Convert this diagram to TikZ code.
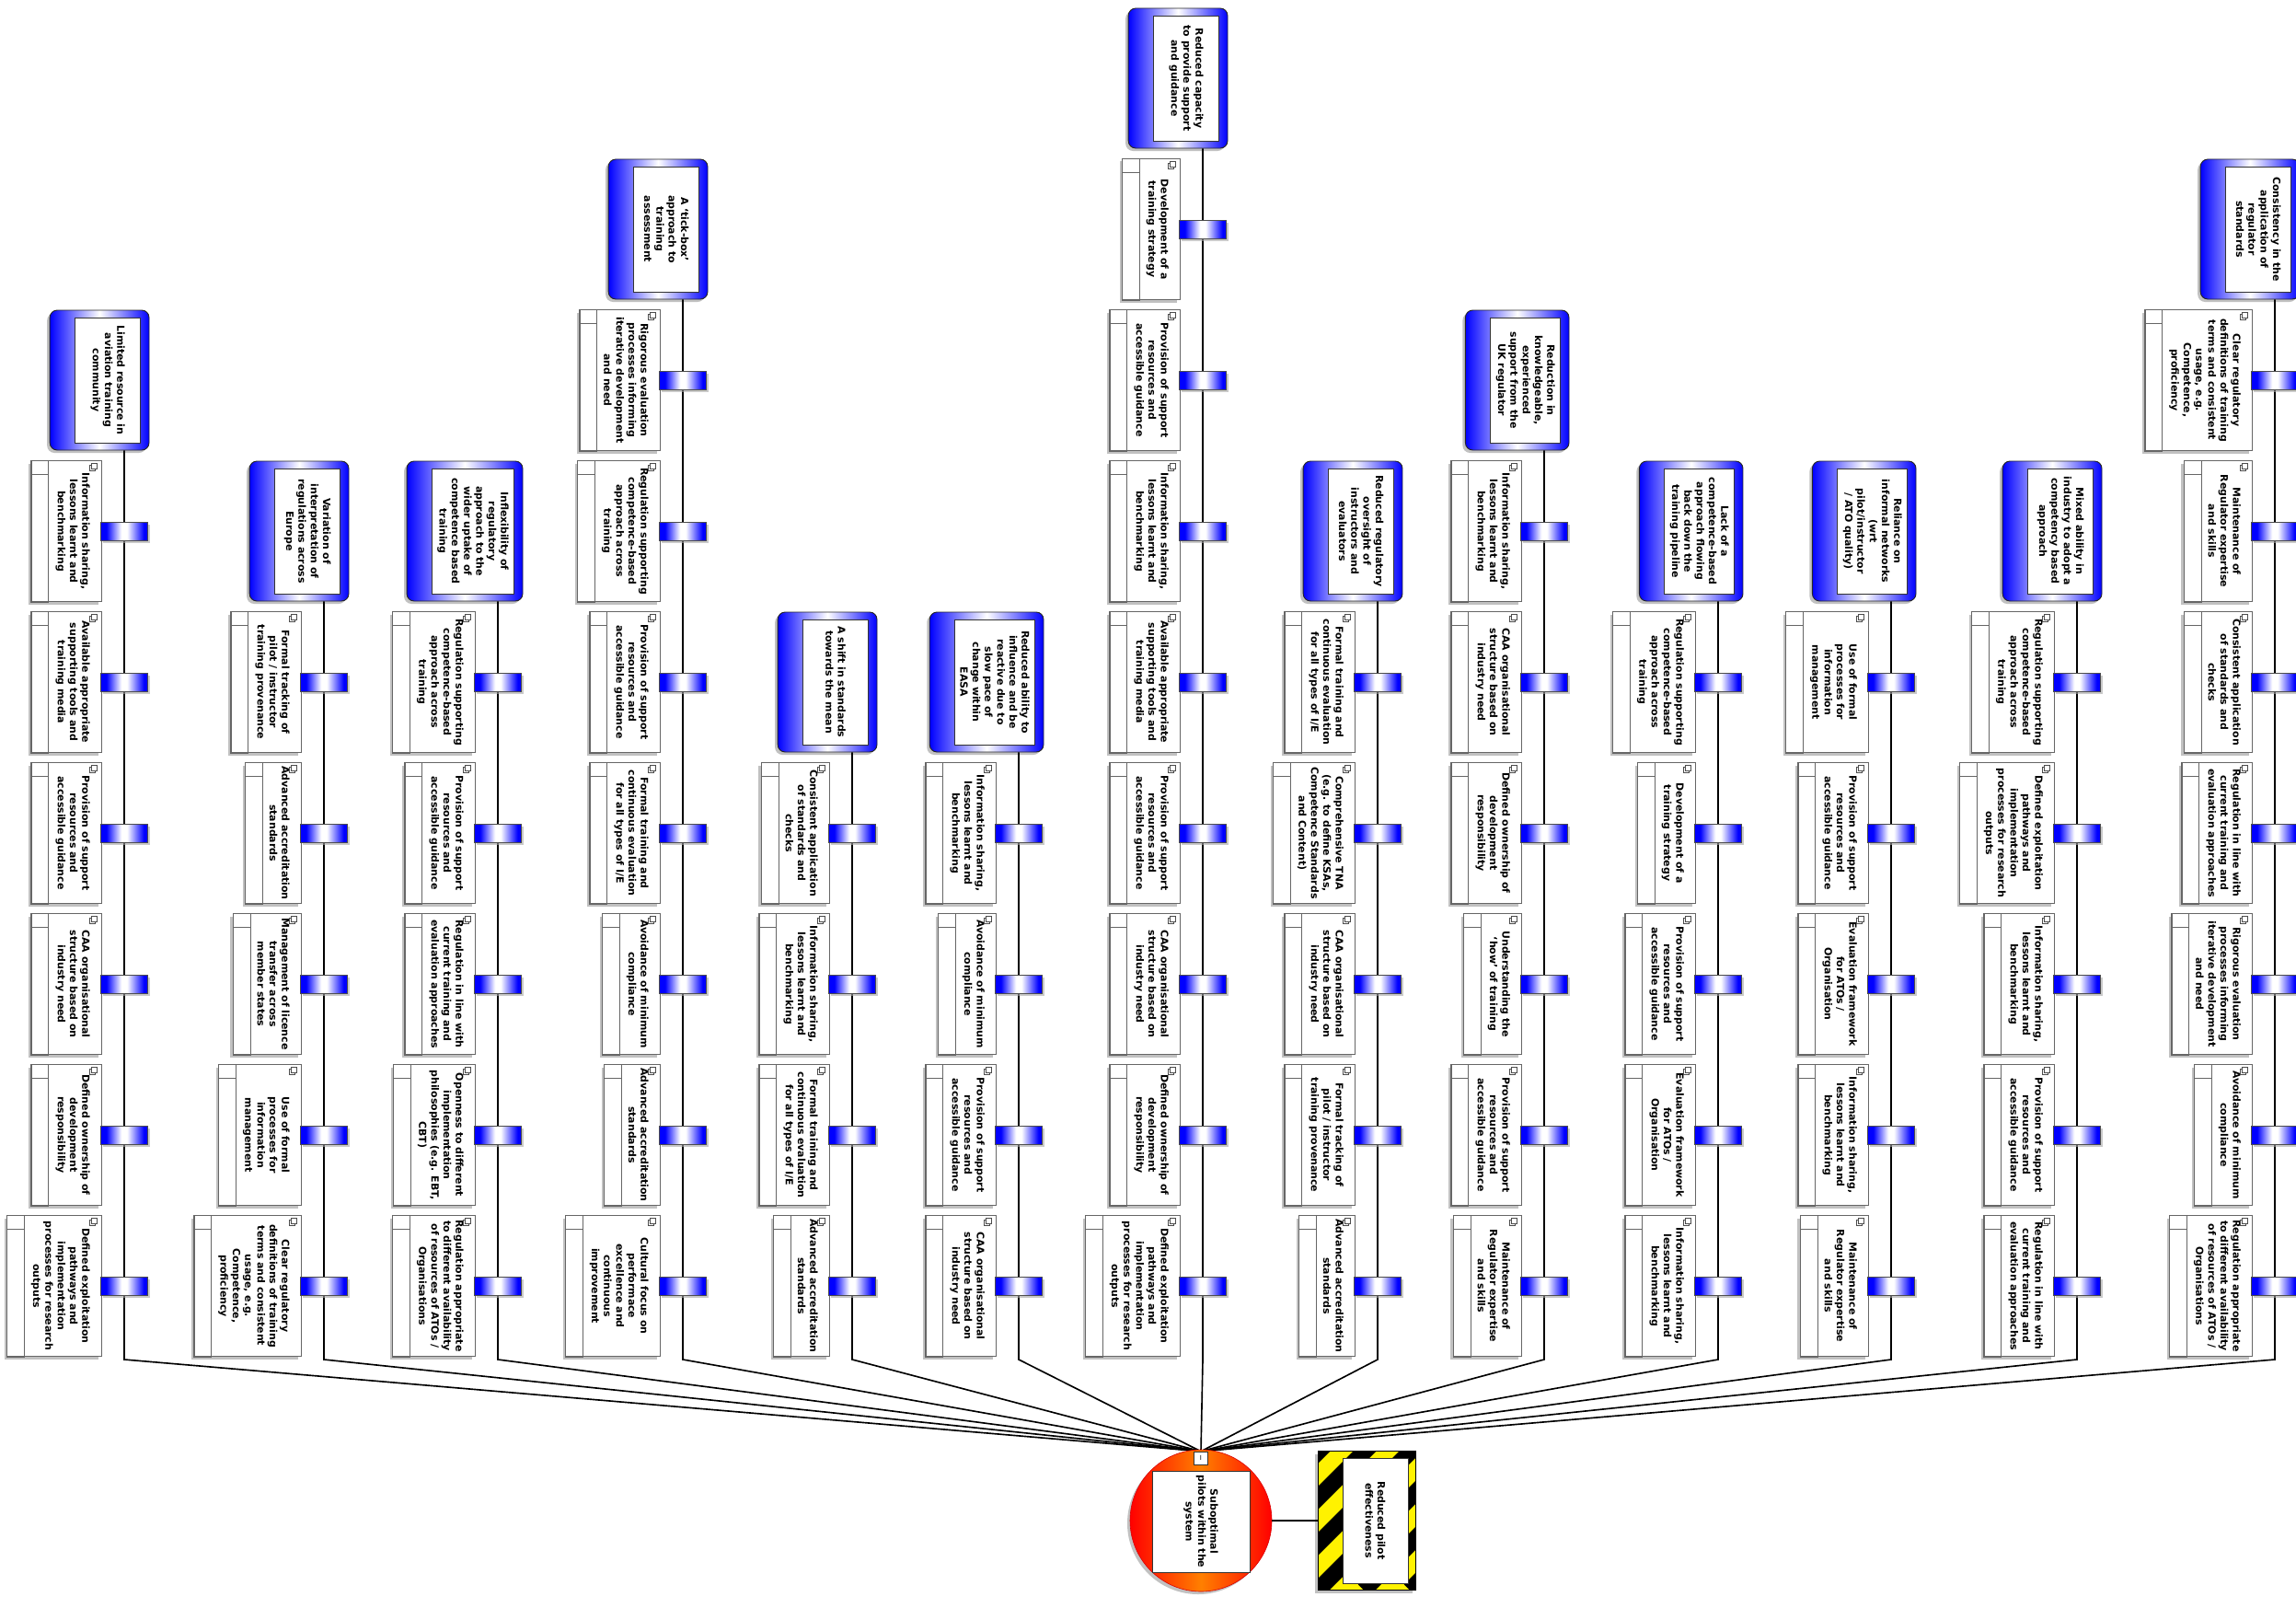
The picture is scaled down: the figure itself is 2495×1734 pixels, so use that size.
\documentclass[tikz,border=0pt]{standalone}
\usepackage{fontspec}
\setmainfont{DejaVu Sans}
\usetikzlibrary{positioning, calc, fit, shadows, backgrounds}

% blue - white - blue across a barrier block
\pgfdeclarehorizontalshading{barshade}{100bp}{color(0bp)=(blue); color(31bp)=(blue); color(47bp)=(white); color(53bp)=(white); color(71bp)=(blue); color(100bp)=(blue)}

% threat: #1 number, #2 line x, #3 row of its first barrier, #4 text
\newcommand{\threat}[4]{%
  \node[threattext, anchor=north] (t#1i) at ({#2+18}, {1397-164*#3}) {#4};
  \coordinate (t#1l) at ($(t#1i.south)+(-27,0)$);
  \coordinate (t#1r) at ($(t#1i.north)+(9,0)$);
  \coordinate (k#1) at (#2, 1477);
  \begin{scope}[on background layer]
    \node[threatbox, fit=(t#1l)(t#1r)] (t#1) {};
  \end{scope}
}
% barrier: #1 name, #2 line x, #3 row (1 = lowest), #4 text
\newcommand{\barrier}[4]{%
  \node[bartext, anchor=north] (#1t) at ({#2-37}, {1397-164*(#3-1)}) {#4};
  \coordinate (#1l) at ($(#1t.south)+(-26,0)$);
  \coordinate (#1r) at ($(#1t.north)+(12,0)$);
  \begin{scope}[on background layer]
    \node[barbox, fit=(#1l)(#1r)] (#1) {};
    \draw[boxline] (#1.north west) rectangle ($(#1.south west)+(19,0)$);
    \draw[boxline] ($(#1.north west)+(0,15)$) -- ++(19,0);
  \end{scope}
  \draw[icon] ($(#1.north east)+(-13,11)$) rectangle ++(6,-6);
  \draw[icon] ($(#1.north east)+(-11,9)$) rectangle ++(6,-6);
  \node[barblock] (#1b) at (#2, {1397-164*(#3-1)}) {};
}

\begin{document}
\begin{tikzpicture}[
    x=0.03cm, y=-0.03cm,
    font=\fontsize{9.3}{11.4}\selectfont\bfseries,
    % shadows
    softshadow/.style={drop shadow={shadow xshift=-0.09cm, shadow yshift=-0.09cm, fill=black!35, opacity=0.7}},
    % threats
    threatbox/.style={
      rectangle, rounded corners=0.24cm, draw=black!85, line width=0.8pt,
      left color=blue, right color=blue, middle color=white,
      minimum height=4.56cm, inner sep=0pt, softshadow
    },
    threattext/.style={
      rectangle, draw=black!80, fill=white, rotate=-90, line width=0.7pt,
      minimum width=4.08cm, minimum height=2.13cm, inner sep=5pt, align=center
    },
    % barriers
    barbox/.style={
      rectangle, draw=black!60, fill=white, line width=0.7pt,
      minimum height=4.59cm, inner sep=0pt, softshadow
    },
    boxline/.style={draw=black!60, line width=0.7pt},
    bartext/.style={rotate=-90, align=center, inner sep=0pt},
    icon/.style={draw=black!70, fill=white, line width=0.4pt},
    barblock/.style={
      rectangle, draw=black!70, line width=0.6pt,
      minimum width=1.53cm, minimum height=0.6cm, inner sep=0pt,
      shade, shading=barshade,
      drop shadow={shadow xshift=0.06cm, shadow yshift=-0.09cm, fill=black!35, opacity=0.6}
    },
    spine/.style={draw=black, line width=1.4pt},
    % top event and consequence
    topevent/.style={
      circle, minimum size=4.62cm, inner sep=0pt, draw=red!85!black, line width=0.5pt,
      left color=red, right color=red, middle color=orange, softshadow
    },
    innerbox/.style={rectangle, draw=black!80, fill=white, rotate=-90, line width=0.7pt, inner sep=4pt, align=center},
    ibox/.style={rectangle, draw=black!80, fill=white, minimum width=0.45cm, minimum height=0.42cm,
      inner sep=0pt, font=\fontsize{6}{6}\selectfont},
    conseq/.style={
      rectangle, draw=black, line width=0.8pt, fill=yellow,
      minimum width=3.18cm, minimum height=4.53cm, inner sep=0pt, softshadow,
      path picture={
        \foreach \k in {-4,...,3}
          \draw[black, line width=0.53cm] ($(path picture bounding box.south west)+(\k*50,0)$) -- ++(220,-220);
      }
    },
  ]
  \useasboundingbox (0,0) rectangle (2495,1734);

  % ====================================================================
  % TOP EVENT AND CONSEQUENCE
  % ====================================================================
  \node[topevent] (te) at (1305,1652) {};
  \node[innerbox, minimum width=3.24cm, minimum height=3.18cm] (tei) at (1305,1653) {Suboptimal\\pilots within the\\system};
  \node[ibox] (ib) at (1305,1584) {I};

  \node[conseq] (cq) at (1485,1652) {};
  \node[innerbox, minimum width=4.08cm, minimum height=2.13cm] (cqi) at (1494.5,1652) {Reduced pilot\\effectiveness};

  \draw[spine] (te.east) -- (cq.west);

  % ====================================================================
  % THREATS
  % ====================================================================
  \threat{1}{135}{6}{Limited resource in\\aviation training\\community}
  \threat{2}{352}{5}{Variation of\\interpretation of\\regulations across\\Europe}
  \threat{3}{541}{5}{Inflexibility of\\regulatory\\approach to the\\wider uptake of\\competence based\\training}
  \threat{4}{742}{7}{A `tick-box'\\approach to\\training\\assessment}
  \threat{5}{926}{4}{A shift in standards\\towards the mean}
  \threat{6}{1107}{4}{Reduced ability to\\influence and be\\reactive due to\\slow pace of\\change within\\EASA}
  \threat{7}{1307}{8}{Reduced capacity\\to provide support\\and guidance}
  \threat{8}{1497}{5}{Reduced regulatory\\oversight of\\instructors and\\evaluators}
  \threat{9}{1678}{6}{Reduction in\\knowledgeable,\\experienced\\support from the\\UK regulator}
  \threat{10}{1867}{5}{Lack of a\\competence-based\\approach flowing\\back down the\\training pipeline}
  \threat{11}{2055}{5}{Reliance on\\informal networks\\(wrt\\pilot/instructor\\/ ATO quality)}
  \threat{12}{2257}{5}{Mixed ability in\\industry to adopt a\\competency based\\approach}
  \threat{13}{2472}{7}{Consistency in the\\application of\\regulator\\standards}

  % ------- Lines to the top event -------
  \begin{scope}[on background layer]
    \foreach \i in {1,...,13}
      \draw[spine] (k\i |- t\i.south) -- (k\i) -- (ib.north);
  \end{scope}

  % ====================================================================
  % BARRIERS
  % ====================================================================
  % Limited resource
  \barrier{b1r6}{135}{6}{Information sharing,\\lessons learnt and\\benchmarking}
  \barrier{b1r5}{135}{5}{Available appropriate\\supporting tools and\\training media}
  \barrier{b1r4}{135}{4}{Provision of support\\resources and\\accessible guidance}
  \barrier{b1r3}{135}{3}{CAA organisational\\structure based on\\industry need}
  \barrier{b1r2}{135}{2}{Defined ownership of\\development\\responsibility}
  \barrier{b1r1}{135}{1}{Defined exploitation\\pathways and\\implementation\\processes for research\\outputs}

  % Variation of interpretation
  \barrier{b2r5}{352}{5}{Formal tracking of\\pilot / instructor\\training provenance}
  \barrier{b2r4}{352}{4}{Advanced accreditation\\standards}
  \barrier{b2r3}{352}{3}{Management of licence\\transfer across\\member states}
  \barrier{b2r2}{352}{2}{Use of formal\\processes for\\information\\management}
  \barrier{b2r1}{352}{1}{Clear regulatory\\definitions of training\\terms and consistent\\usage, e.g.\\Competence,\\proficiency}

  % Inflexibility
  \barrier{b3r5}{541}{5}{Regulation supporting\\competence-based\\approach across\\training}
  \barrier{b3r4}{541}{4}{Provision of support\\resources and\\accessible guidance}
  \barrier{b3r3}{541}{3}{Regulation in line with\\current training and\\evaluation approaches}
  \barrier{b3r2}{541}{2}{Openness to different\\implementation\\philosophies (e.g. EBT,\\CBT)}
  \barrier{b3r1}{541}{1}{Regulation appropriate\\to different availability\\of resources of ATOs /\\Organisations}

  % Tick-box
  \barrier{b4r7}{742}{7}{Rigorous evaluation\\processes informing\\iterative development\\and need}
  \barrier{b4r6}{742}{6}{Regulation supporting\\competence-based\\approach across\\training}
  \barrier{b4r5}{742}{5}{Provision of support\\resources and\\accessible guidance}
  \barrier{b4r4}{742}{4}{Formal training and\\continuous evaluation\\for all types of I/E}
  \barrier{b4r3}{742}{3}{Avoidance of minimum\\compliance}
  \barrier{b4r2}{742}{2}{Advanced accreditation\\standards}
  \barrier{b4r1}{742}{1}{Cultural focus on\\performace\\excellence and\\continuous\\improvement}

  % Shift in standards
  \barrier{b5r4}{926}{4}{Consistent application\\of standards and\\checks}
  \barrier{b5r3}{926}{3}{Information sharing,\\lessons learnt and\\benchmarking}
  \barrier{b5r2}{926}{2}{Formal training and\\continuous evaluation\\for all types of I/E}
  \barrier{b5r1}{926}{1}{Advanced accreditation\\standards}

  % Reduced ability to influence
  \barrier{b6r4}{1107}{4}{Information sharing,\\lessons learnt and\\benchmarking}
  \barrier{b6r3}{1107}{3}{Avoidance of minimum\\compliance}
  \barrier{b6r2}{1107}{2}{Provision of support\\resources and\\accessible guidance}
  \barrier{b6r1}{1107}{1}{CAA organisational\\structure based on\\industry need}

  % Reduced capacity
  \barrier{b7r8}{1307}{8}{Development of a\\training strategy}
  \barrier{b7r7}{1307}{7}{Provision of support\\resources and\\accessible guidance}
  \barrier{b7r6}{1307}{6}{Information sharing,\\lessons learnt and\\benchmarking}
  \barrier{b7r5}{1307}{5}{Available appropriate\\supporting tools and\\training media}
  \barrier{b7r4}{1307}{4}{Provision of support\\resources and\\accessible guidance}
  \barrier{b7r3}{1307}{3}{CAA organisational\\structure based on\\industry need}
  \barrier{b7r2}{1307}{2}{Defined ownership of\\development\\responsibility}
  \barrier{b7r1}{1307}{1}{Defined exploitation\\pathways and\\implementation\\processes for research\\outputs}

  % Reduced regulatory oversight
  \barrier{b8r5}{1497}{5}{Formal training and\\continuous evaluation\\for all types of I/E}
  \barrier{b8r4}{1497}{4}{Comprehensive TNA\\(e.g. to define KSAs,\\Competence Standards\\and Content)}
  \barrier{b8r3}{1497}{3}{CAA organisational\\structure based on\\industry need}
  \barrier{b8r2}{1497}{2}{Formal tracking of\\pilot / instructor\\training provenance}
  \barrier{b8r1}{1497}{1}{Advanced accreditation\\standards}

  % Reduction in support
  \barrier{b9r6}{1678}{6}{Information sharing,\\lessons learnt and\\benchmarking}
  \barrier{b9r5}{1678}{5}{CAA organisational\\structure based on\\industry need}
  \barrier{b9r4}{1678}{4}{Defined ownership of\\development\\responsibility}
  \barrier{b9r3}{1678}{3}{Understanding the\\`how' of training}
  \barrier{b9r2}{1678}{2}{Provision of support\\resources and\\accessible guidance}
  \barrier{b9r1}{1678}{1}{Maintenance of\\Regulator expertise\\and skills}

  % Lack of competence-based approach
  \barrier{b10r5}{1867}{5}{Regulation supporting\\competence-based\\approach across\\training}
  \barrier{b10r4}{1867}{4}{Development of a\\training strategy}
  \barrier{b10r3}{1867}{3}{Provision of support\\resources and\\accessible guidance}
  \barrier{b10r2}{1867}{2}{Evaluation framework\\for ATOs /\\Organisation}
  \barrier{b10r1}{1867}{1}{Information sharing,\\lessons learnt and\\benchmarking}

  % Reliance on informal networks
  \barrier{b11r5}{2055}{5}{Use of formal\\processes for\\information\\management}
  \barrier{b11r4}{2055}{4}{Provision of support\\resources and\\accessible guidance}
  \barrier{b11r3}{2055}{3}{Evaluation framework\\for ATOs /\\Organisation}
  \barrier{b11r2}{2055}{2}{Information sharing,\\lessons learnt and\\benchmarking}
  \barrier{b11r1}{2055}{1}{Maintenance of\\Regulator expertise\\and skills}

  % Mixed ability
  \barrier{b12r5}{2257}{5}{Regulation supporting\\competence-based\\approach across\\training}
  \barrier{b12r4}{2257}{4}{Defined exploitation\\pathways and\\implementation\\processes for research\\outputs}
  \barrier{b12r3}{2257}{3}{Information sharing,\\lessons learnt and\\benchmarking}
  \barrier{b12r2}{2257}{2}{Provision of support\\resources and\\accessible guidance}
  \barrier{b12r1}{2257}{1}{Regulation in line with\\current training and\\evaluation approaches}

  % Consistency
  \barrier{b13r7}{2472}{7}{Clear regulatory\\definitions of training\\terms and consistent\\usage, e.g.\\Competence,\\proficiency}
  \barrier{b13r6}{2472}{6}{Maintenance of\\Regulator expertise\\and skills}
  \barrier{b13r5}{2472}{5}{Consistent application\\of standards and\\checks}
  \barrier{b13r4}{2472}{4}{Regulation in line with\\current training and\\evaluation approaches}
  \barrier{b13r3}{2472}{3}{Rigorous evaluation\\processes informing\\iterative development\\and need}
  \barrier{b13r2}{2472}{2}{Avoidance of minimum\\compliance}
  \barrier{b13r1}{2472}{1}{Regulation appropriate\\to different availability\\of resources of ATOs /\\Organisations}

\end{tikzpicture}
\end{document}
